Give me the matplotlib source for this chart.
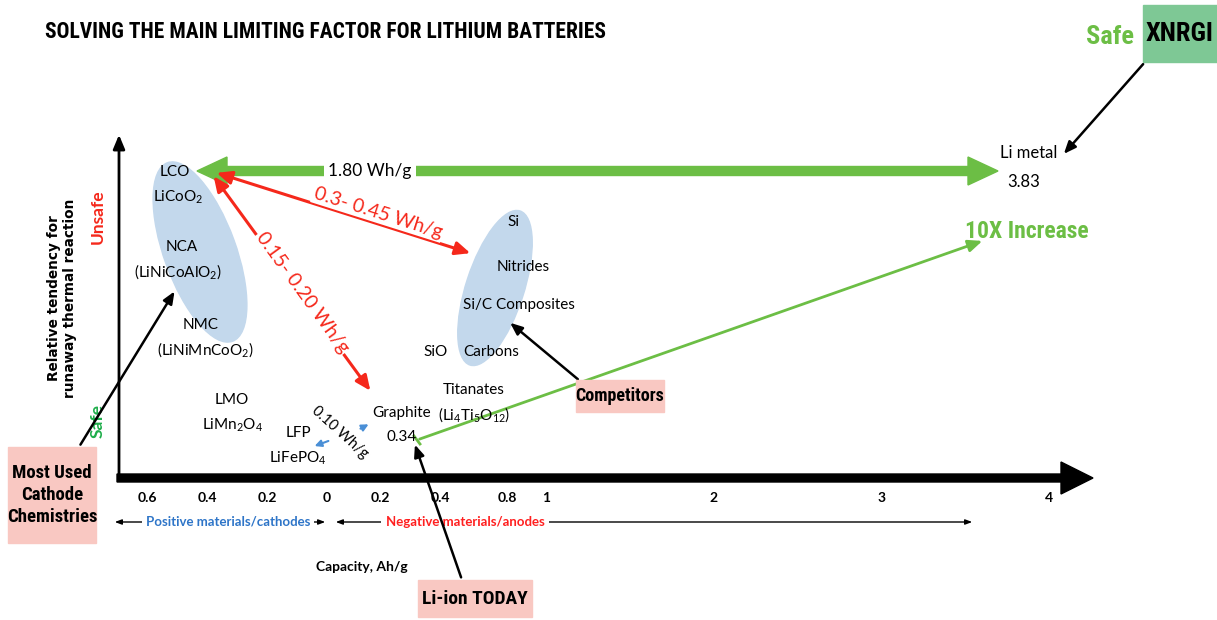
import numpy as np
import matplotlib
matplotlib.use("Agg")
import matplotlib.pyplot as plt
from matplotlib.patches import Ellipse, FancyArrowPatch, Rectangle

plt.rcParams['font.family'] = ['Lato', 'DejaVu Sans']
plt.rcParams['mathtext.fontset'] = 'custom'
plt.rcParams['mathtext.rm'] = 'Lato'
plt.rcParams['mathtext.it'] = 'Lato:italic'
plt.rcParams['mathtext.bf'] = 'Lato:bold'

# ---- data ----
title = "SOLVING THE MAIN LIMITING FACTOR FOR LITHIUM BATTERIES"
cathode_ticks = [0.6, 0.4, 0.2, 0]
anode_ticks = [0.2, 0.4, 0.8, 1, 2, 3, 4]
cathodes = ["LCO", "LiCoO$_2$", "NCA", "(LiNiCoAlO$_2$)", "NMC", "(LiNiMnCoO$_2$)",
            "LMO", "LiMn$_2$O$_4$", "LFP", "LiFePO$_4$"]
anodes = ["Si", "Nitrides", "Si/C Composites", "SiO", "Carbons", "Titanates",
          "(Li$_4$Ti$_5$O$_{12}$)"]
graphite_capacity = 0.34
li_metal_capacity = 3.83
gaps = ["1.80 Wh/g", "0.3- 0.45 Wh/g", "0.15- 0.20 Wh/g", "0.10 Wh/g"]
callouts = ["Most Used\nCathode\nChemistries", "Competitors", "Li-ion TODAY"]

# ---- layout (pixels) ----
W, H = 1217, 620
cat_pos = [(175, 172), (178, 197), (182, 247), (178, 272), (201, 325), (205, 350),
           (232, 400), (233, 425), (298, 433), (298, 458)]
an_pos = [(513, 222), (523, 267), (519, 305), (436, 352), (491, 352), (474, 390), (474, 415)]
y_axis_px = 478
# piecewise capacity scale of the drawn axis
anode_break = [0, 0.2, 0.4, 0.8, 1, 4]
anode_break_px = [327, 380, 440, 507, 546, 1049]


def xcap(c, side="anode"):
    if side == "cathode":
        return 327 - 300 * c
    return float(np.interp(c, anode_break, anode_break_px))


GREEN = '#6cbe45'
RED = '#f5281b'
BLUE = '#4a8fd6'
PINK = '#f9c8c2'
NARROW = ['Roboto Condensed', 'Liberation Sans Narrow', 'Roboto', 'DejaVu Sans']

fig = plt.figure(figsize=(W / 100, H / 100), dpi=100)
ax = fig.add_axes([0, 0, 1, 1])
ax.set_xlim(0, W)
ax.set_ylim(H, 0)
ax.axis('off')

# title
ax.text(45, 32, title, family=NARROW, weight='heavy', fontsize=15.5, va='center', ha='left',
        fontstretch='condensed')

# ellipses
ax.add_patch(Ellipse((200, 252), 72, 190, angle=-20, color='#c3d8ec', zorder=1))
ax.add_patch(Ellipse((495, 288), 58, 162, angle=18, color='#c3d8ec', zorder=1))

# axes
ax.annotate("", xy=(119, 132), xytext=(119, y_axis_px + 2),
            arrowprops=dict(arrowstyle='-|>,head_length=0.6,head_width=0.25',
                            lw=2, color='black', mutation_scale=14))
ax.arrow(117, y_axis_px, 1093 - 117, 0, width=8, head_width=32, head_length=32,
         length_includes_head=True, color='black', zorder=3)

ax.text(62, 298, "Relative tendency for\nrunaway thermal reaction", family='DejaVu Sans',
        weight='bold', fontsize=9.8, rotation=90, ha='center', va='center', linespacing=1.1)
ax.text(98, 217, "Unsafe", color=RED, weight='bold', fontsize=12.5, rotation=90,
        ha='center', va='center')
ax.text(98, 421, "Safe", color='#1fae4b', weight='bold', fontsize=12.5, rotation=90,
        ha='center', va='center')

# ticks
for c in cathode_ticks:
    ax.text(xcap(c, "cathode"), 498, f"{c:g}", ha='center', va='center', fontsize=10, weight='bold')
for c in anode_ticks:
    ax.text(xcap(c), 498, f"{c:g}", ha='center', va='center', fontsize=10, weight='bold')

# material ranges under axis
arr = dict(arrowstyle='<|-|>,head_length=0.4,head_width=0.15', lw=1, color='black', mutation_scale=10)
ax.annotate("", xy=(112, 522), xytext=(328, 522), arrowprops=arr)
ax.annotate("", xy=(333, 522), xytext=(975, 522), arrowprops=arr)
ax.text(228, 522, "Positive materials/cathodes", color='#2e75c8', weight='bold', fontsize=9.5,
        ha='center', va='center', bbox=dict(fc='white', ec='none', pad=3))
ax.text(465, 522, "Negative materials/anodes", color='#ff2020', weight='bold', fontsize=9.5,
        ha='center', va='center', bbox=dict(fc='white', ec='none', pad=3))
ax.text(362, 567, "Capacity, Ah/g", weight='bold', fontsize=10, ha='center', va='center')

# material labels
for t, (x, y) in zip(cathodes, cat_pos):
    ax.text(x, y, t, ha='center', va='center', fontsize=11, zorder=4)
for t, (x, y) in zip(anodes, an_pos):
    ax.text(x, y, t, ha='center', va='center', fontsize=11, zorder=4)
gx = xcap(graphite_capacity)
ax.text(gx - 20, 413, "Graphite", ha='center', va='center', fontsize=11)
ax.text(gx - 20, 437, f"{graphite_capacity:.2f}", ha='center', va='center', fontsize=11)
lx = xcap(li_metal_capacity)
ax.text(lx + 8, 153, "Li metal", ha='center', va='center', fontsize=12)
ax.text(lx + 3, 182, f"{li_metal_capacity:.2f}", ha='center', va='center', fontsize=12)

# green energy arrow
ax.arrow(400, 171, 197 - 400, 0, width=9, head_width=28, head_length=30,
         length_includes_head=True, color=GREEN, zorder=2)
ax.arrow(400, 171, 998 - 400, 0, width=9, head_width=28, head_length=30,
         length_includes_head=True, color=GREEN, zorder=2)
ax.text(370, 171, gaps[0], ha='center', va='center', fontsize=12.5, zorder=5,
        bbox=dict(fc='white', ec='none', pad=3))

# red arrows
rarr = dict(arrowstyle='<|-|>,head_length=0.45,head_width=0.2', lw=2.2, color=RED, mutation_scale=20)
ax.annotate("", xy=(473, 254), xytext=(214, 172), arrowprops=rarr)
ax.text(378, 213, gaps[1], color=RED, fontsize=14, rotation=-17.5, ha='center', va='center',
        rotation_mode='anchor', bbox=dict(fc='white', ec='none', pad=1), zorder=5)
ax.annotate("", xy=(372, 393), xytext=(212, 174), arrowprops=rarr)
ax.text(302, 293, gaps[2], color=RED, fontsize=14, rotation=-54, ha='center', va='center',
        rotation_mode='anchor', bbox=dict(fc='white', ec='none', pad=1), zorder=5)

# blue small arrows
barr = dict(arrowstyle='-|>,head_length=0.4,head_width=0.2', lw=1.5, color=BLUE, mutation_scale=10)
ax.annotate("", xy=(371, 423), xytext=(358, 430), arrowprops=barr)
ax.annotate("", xy=(312, 447), xytext=(331, 440), arrowprops=barr)
ax.text(340, 432, gaps[3], fontsize=10.5, rotation=-42, ha='center', va='center', rotation_mode='anchor')

# green increase arrow
ax.annotate("", xy=(985, 240), xytext=(417, 440),
            arrowprops=dict(arrowstyle='-|>,head_length=0.7,head_width=0.3',
                            lw=2, color=GREEN, mutation_scale=12))
ax.plot([414, 420], [436, 444], color=GREEN, lw=2)
ax.text(1027, 231, "10X Increase", color=GREEN, family=NARROW, weight='bold', fontsize=17,
        ha='center', va='center', fontstretch='condensed')

# callouts
karr = dict(arrowstyle='-|>,head_length=0.6,head_width=0.25', lw=1.8, color='black', mutation_scale=12)
ax.annotate("", xy=(176, 289), xytext=(79, 447), arrowprops=karr)
ax.annotate("", xy=(508, 321), xytext=(580, 381), arrowprops=karr)
ax.annotate("", xy=(414, 442), xytext=(462, 580), arrowprops=karr)
ax.annotate("", xy=(1062, 156), xytext=(1145, 62), arrowprops=karr)

for (x0, y0, w, h), t, fs in zip([(8, 447, 88, 96), (576, 380, 88, 32), (418, 580, 114, 37)],
                                  callouts, [13.5, 13, 14]):
    ax.add_patch(Rectangle((x0, y0), w, h, color=PINK, zorder=6))
    ax.text(x0 + w / 2, y0 + h / 2, t, family=NARROW, weight='bold', fontsize=fs,
            ha='center', va='center', zorder=7, linespacing=1.25, fontstretch='condensed')

ax.add_patch(Rectangle((1143, 5), 74, 57, color='#7ec895', zorder=6))
ax.text(1180, 34, "XNRGI", family=NARROW, weight='heavy', fontsize=19, ha='center', va='center',
        zorder=7, fontstretch='condensed')
ax.text(1110, 37, "Safe", color=GREEN, family=NARROW, weight='bold', fontsize=19,
        ha='center', va='center', fontstretch='condensed')

fig.savefig("out.png", dpi=100)
